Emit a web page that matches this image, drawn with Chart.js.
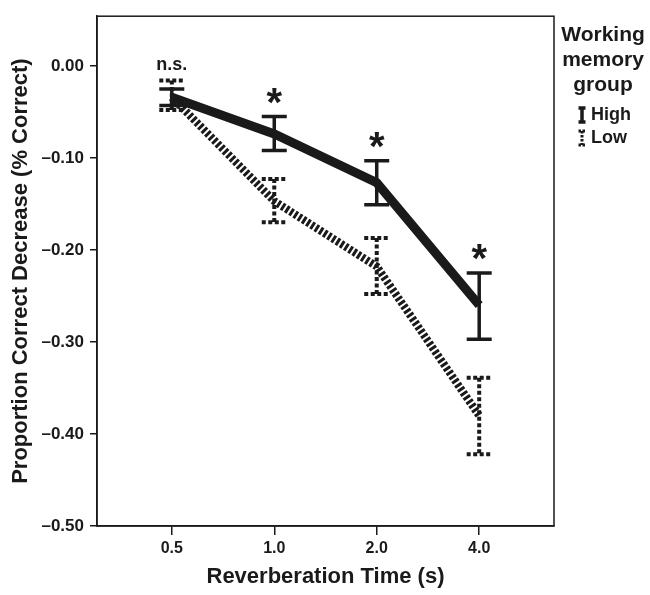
<!DOCTYPE html>
<html>
<head>
<meta charset="utf-8">
<script src="https://cdn.jsdelivr.net/npm/chart.js@4.4.1/dist/chart.umd.min.js"></script>
<style>
  html, body { margin: 0; padding: 0; background: #fff; }
  #wrap { width: 650px; height: 595px; }
</style>
</head>
<body>
<div id="wrap"><canvas id="chart"></canvas></div>
<script>
// reverberation times (s)
const categories = ["0.5", "1.0", "2.0", "4.0"]
// mean proportion-correct decrease per working memory group
const highMeans = [-0.034, -0.074, -0.127, -0.260]
const lowMeans = [-0.034, -0.147, -0.218, -0.380]
// error bar bounds
const highUpper = [-0.025, -0.055, -0.103, -0.225]
const highLower = [-0.043, -0.092, -0.151, -0.297]
const lowUpper = [-0.016, -0.123, -0.187, -0.339]
const lowLower = [-0.048, -0.170, -0.248, -0.422]
// significance marks above each time
const marks = ["n.s.", "*", "*", "*"]
const yTicks = [0, -0.1, -0.2, -0.3, -0.4, -0.5]

const FONT = '"Liberation Sans", Arial, sans-serif'
const ink = '#1a1a1a'

const toPoints = arr => arr.map((v, i) => ({ x: i, y: v }))

const extras = {
  id: 'extras',
  afterDatasetsDraw(chart) {
    const ctx = chart.ctx
    const xs = chart.scales.x
    const ys = chart.scales.y
    const a = chart.chartArea

    // frame (top / right)
    ctx.save()
    ctx.strokeStyle = ink
    ctx.lineWidth = 1.5
    ctx.strokeRect(a.left, a.top, a.right - a.left, a.bottom - a.top)

    const bar = (i, up, lo, dashed) => {
      const x = xs.getPixelForValue(i)
      const y1 = ys.getPixelForValue(up)
      const y2 = ys.getPixelForValue(lo)
      ctx.lineWidth = dashed ? 4 : 3.5
      ctx.setLineDash(dashed ? [4, 2.5] : [])
      ctx.beginPath()
      ctx.moveTo(x, y1); ctx.lineTo(x, y2)
      ctx.moveTo(x - 12.5, y1); ctx.lineTo(x + 12.5, y1)
      ctx.moveTo(x - 12.5, y2); ctx.lineTo(x + 12.5, y2)
      ctx.stroke()
    }
    categories.forEach((c, i) => {
      bar(i, lowUpper[i], lowLower[i], true)
      bar(i, highUpper[i], highLower[i], false)
    })
    ctx.setLineDash([])

    // significance marks
    ctx.fillStyle = ink
    ctx.textAlign = 'center'
    ctx.textBaseline = 'alphabetic'
    marks.forEach((m, i) => {
      const top = Math.max(highUpper[i], lowUpper[i])
      const x = xs.getPixelForValue(i)
      const y = ys.getPixelForValue(top)
      if (m === '*') {
        ctx.font = 'bold 40px ' + FONT
        ctx.fillText(m, x, y - 1)
      } else {
        ctx.font = 'bold 18px ' + FONT
        ctx.fillText(m, x, y - 11)
      }
    })

    // legend
    const lx = 603
    ctx.font = 'bold 21px ' + FONT
    ctx.textBaseline = 'middle'
    ctx.fillText('Working', lx, 35)
    ctx.fillText('memory', lx, 60)
    ctx.fillText('group', lx, 85)

    ctx.textAlign = 'left'
    ctx.font = 'bold 18px ' + FONT
    ctx.fillText('High', 591, 115)
    ctx.fillText('Low', 591, 138)

    const icon = (x, y, dashed) => {
      ctx.lineWidth = dashed ? 3 : 3.5
      ctx.setLineDash(dashed ? [2.5, 1.5] : [])
      ctx.beginPath()
      ctx.moveTo(x, y - 7); ctx.lineTo(x, y + 7)
      ctx.moveTo(x - 3.5, y - 7); ctx.lineTo(x + 3.5, y - 7)
      ctx.moveTo(x - 3.5, y + 7); ctx.lineTo(x + 3.5, y + 7)
      ctx.stroke()
    }
    icon(582, 115, false)
    icon(582, 138, true)
    ctx.restore()
  }
}

new Chart(document.getElementById('chart'), {
  type: 'line',
  data: {
    datasets: [
      {
        label: 'High',
        data: toPoints(highMeans),
        borderColor: ink,
        borderWidth: 9,
        pointRadius: 0,
        tension: 0
      },
      {
        label: 'Low',
        data: toPoints(lowMeans),
        borderColor: ink,
        borderWidth: 8,
        borderDash: [3, 2],
        pointRadius: 0,
        tension: 0
      }
    ]
  },
  options: {
    responsive: true,
    maintainAspectRatio: false,
    animation: false,
    layout: { padding: { top: 12, right: 96, left: 0, bottom: 0 } },
    plugins: { legend: { display: false }, tooltip: { enabled: false } },
    scales: {
      x: {
        type: 'linear',
        min: -0.73,
        max: 3.73,
        afterBuildTicks: s => { s.ticks = categories.map((c, i) => ({ value: i })) },
        afterFit: s => { s.height = 69 },
        border: { display: true, color: ink, width: 1.5 },
        grid: { drawOnChartArea: false, drawTicks: true, tickLength: 9, color: ink, lineWidth: 1.5 },
        ticks: {
          color: ink,
          font: { family: FONT, size: 16, weight: 'bold' },
          padding: 4,
          callback: v => categories[v]
        },
        title: {
          display: true,
          text: 'Reverberation Time (s)',
          color: ink,
          font: { family: FONT, size: 22, weight: 'bold' },
          padding: { top: 0, bottom: 5 }
        }
      },
      y: {
        min: -0.5,
        max: 0.054,
        afterBuildTicks: s => { s.ticks = yTicks.map(v => ({ value: v })) },
        afterFit: s => { s.width = 97 },
        border: { display: true, color: ink, width: 1.5 },
        grid: { drawOnChartArea: false, drawTicks: true, tickLength: 7, color: ink, lineWidth: 1.5 },
        ticks: {
          color: ink,
          font: { family: FONT, size: 17, weight: 'bold' },
          padding: 6,
          callback: v => (v < 0 ? '\u2013' : '') + Math.abs(v).toFixed(2)
        },
        title: {
          display: true,
          text: 'Proportion Correct Decrease (% Correct)',
          color: ink,
          font: { family: FONT, size: 22, weight: 'bold' },
          padding: { top: 8, bottom: 0 }
        }
      }
    }
  },
  plugins: [extras]
})
</script>
</body>
</html>
